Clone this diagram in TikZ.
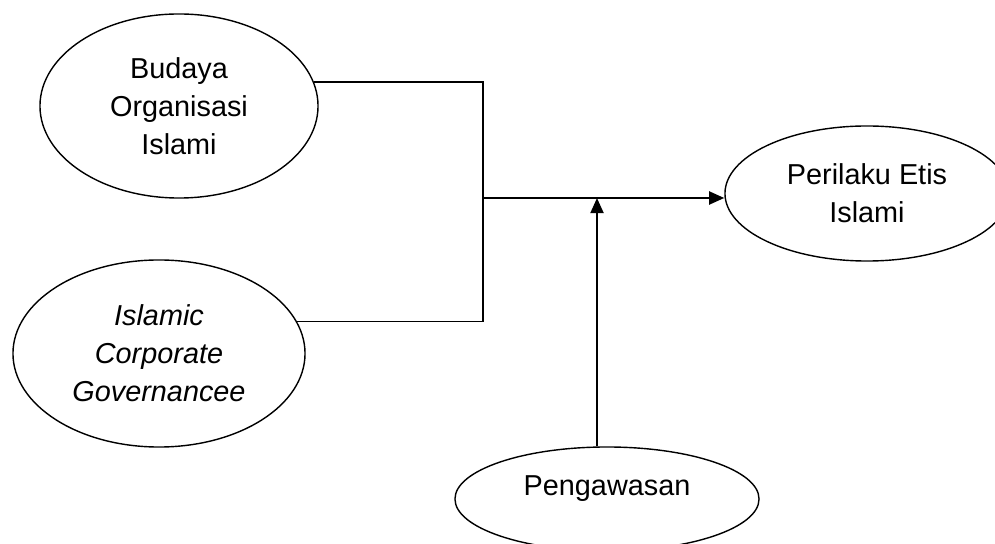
\documentclass[tikz,border=0pt]{standalone}
\usepackage{fontspec}
\setmainfont{Liberation Sans}
\usetikzlibrary{shapes.geometric,arrows.meta}
\tikzset{
  var/.style={draw,ellipse,line width=1pt,inner sep=0pt,align=center,
    font=\fontsize{20.5}{27}\selectfont},
  link/.style={line width=1.1pt},
  flow/.style={line width=1.5pt,-{Triangle[length=10.7pt,width=9.2pt]}}
}
\begin{document}
\begin{tikzpicture}[x=0.025cm,y=-0.025cm]
    \clip (0,0) rectangle (995,544);
    \node[var,minimum width=6.95cm,minimum height=4.6cm] (budaya) at (179,106) {Budaya\\Organisasi\\Islami};
    \node[var,minimum width=7.3cm,minimum height=4.675cm,font=\fontsize{20.5}{27}\selectfont\itshape] (icg) at (159,353.5) {Islamic\\Corporate\\Governancee};
    \node[var,minimum width=7.1cm,minimum height=3.375cm] (etis) at (867,193.5) {Perilaku Etis\\Islami};
    \node[var,minimum width=7.6cm,minimum height=2.6cm,text height=15pt,text depth=20pt] (awas) at (607,499) {Pengawasan};
    \coordinate (split) at (483,198);
    \coordinate (mid) at (597,198);
    \draw[link] (budaya.10) -| (split) |- (icg.13);
    \draw[flow] (split) -- (split -| etis.west);
    \draw[flow] (awas.north -| mid) -- (mid);
\end{tikzpicture}
\end{document}
